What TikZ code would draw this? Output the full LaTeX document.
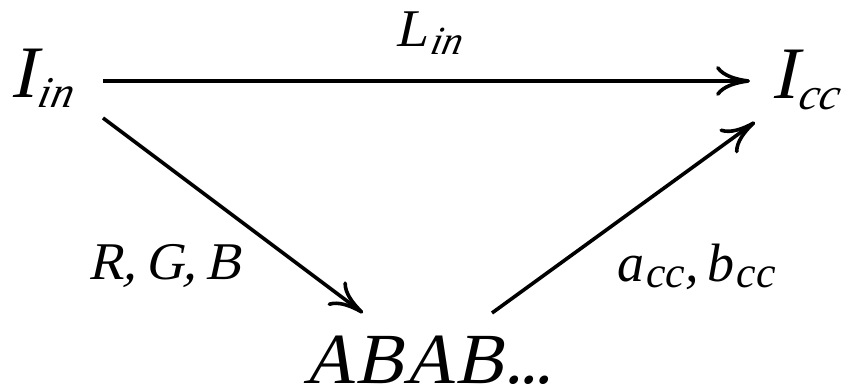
\documentclass[tikz,border=0pt]{standalone}
\usepackage{fontspec}
\setmainfont{Liberation Serif}
\newfontfamily\slfont{Liberation Serif}[FakeSlant=0.22]
\usetikzlibrary{arrows.meta}
\newcommand{\fs}[1]{\fontsize{#1}{#1}\selectfont}
\newcommand{\Sb}[3]{\kern2pt\raisebox{-#2pt}{\fs{#1}\itshape #3}}
\begin{document}
\begin{tikzpicture}[x=1pt,y=1pt,
  lbl/.style={inner sep=0pt,anchor=base west},
  arr/.style={line width=3.6pt,-{Computer Modern Rightarrow[length=34pt,width=30pt,line width=3.6pt]}}]
\useasboundingbox (0,0) rectangle (848,388);
\node[lbl] (iin) at (10,290) {\fs{74}\slfont I\Sb{44}{10}{in}};
\node[lbl] (icc) at (771,289) {\fs{74}\slfont I\Sb{45}{11}{cc}};
\node[lbl] (abab) at (303,5) {\fs{72}\slfont ABAB\kern1pt.\kern-3pt.\kern-3pt.};
\node[lbl] (lin) at (395,341) {\fs{53}\slfont L\Sb{40}{8}{in}};
\node[lbl] (rgb) at (88,108) {\fs{53}\slfont R,\,G,\,B};
\node[lbl] (abcc) at (617,106) {\fs{54}\itshape a\Sb{44}{6}{cc},\,b\Sb{44}{6}{cc}};
\draw[arr] ([shift={(93,17)}]iin.base west) -- ([shift={(-21,18)}]icc.base west);
\draw[arr] ([shift={(93,-20)}]iin.base west) -- ([shift={(60,70)}]abab.base west);
\draw[arr] ([shift={(189,70)}]abab.base west) -- ([shift={(-16,-23)}]icc.base west);
\end{tikzpicture}
\end{document}
